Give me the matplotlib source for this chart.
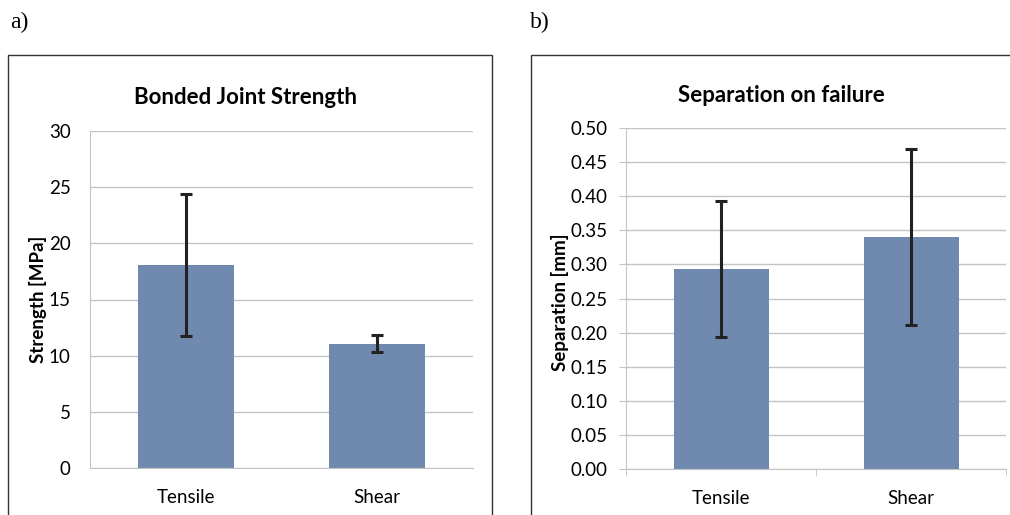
import matplotlib.pyplot as plt
from matplotlib.patches import Rectangle

categories = ['Tensile', 'Shear']

strength = [18.05, 11.07]
strength_err = [6.3, 0.75]

separation = [0.293, 0.340]
separation_err = [0.100, 0.129]

bar_col = '#7089ae'
grid_col = '#c4c4c4'
font = 'Lato'

fig = plt.figure(figsize=(10.1, 5.15), dpi=100)

# outer frames like the excel chart boxes
fig.patches.append(Rectangle((8 / 1010, -0.1), 484 / 1010, 1.1 - 55 / 515,
                             transform=fig.transFigure, fill=False,
                             edgecolor='#333333', linewidth=1.0))
fig.patches.append(Rectangle((531 / 1010, -0.1), 0.6, 1.1 - 55 / 515,
                             transform=fig.transFigure, fill=False,
                             edgecolor='#333333', linewidth=1.0))

fig.text(10 / 1010, 1 - 22 / 515, 'a)', family='Liberation Serif', fontsize=17,
         va='center', ha='left')
fig.text(530 / 1010, 1 - 22 / 515, 'b)', family='Liberation Serif', fontsize=17,
         va='center', ha='left')

# chart titles, centred on the boxes rather than the plot area
fig.text(246 / 1010, 1 - 98 / 515, 'Bonded Joint Strength', family=font,
         fontsize=16, fontweight='bold', ha='center', va='center')
fig.text(781 / 1010, 1 - 96 / 515, 'Separation on failure', family=font,
         fontsize=16, fontweight='bold', ha='center', va='center')


def style_axes(ax, ticks, labels, outward):
    ax.set_yticks(ticks)
    ax.set_yticklabels(labels, family=font, fontsize=13.5)
    ax.yaxis.grid(True, color=grid_col, linewidth=1.0)
    ax.set_axisbelow(True)
    for s in ['top', 'right']:
        ax.spines[s].set_visible(False)
    ax.spines['bottom'].set_color(grid_col)
    ax.spines['left'].set_color(grid_col)
    ax.set_xlim(-0.5, 1.5)
    ax.set_xticks([0, 1])
    ax.set_xticklabels(categories, family=font, fontsize=13.5)
    ax.tick_params(axis='x', which='major', length=0, pad=15)
    if outward:
        ax.set_xticks([-0.5, 0.5, 1.5], minor=True)
        ax.tick_params(axis='x', which='minor', length=5, color=grid_col)
        ax.tick_params(axis='y', length=5, color=grid_col, pad=8)
    else:
        ax.tick_params(axis='y', length=0, pad=14)


# a) strength
ax1 = fig.add_axes([90 / 1010, 1 - 468 / 515, 383 / 1010, 337 / 515])
ax1.bar(range(2), strength, width=0.5, color=bar_col)
ax1.errorbar(range(2), strength, yerr=strength_err, fmt='none', ecolor='#222222',
             elinewidth=2.2, capsize=4.5, capthick=2.2)
ax1.set_ylim(0, 30)
style_axes(ax1, range(0, 31, 5), [str(v) for v in range(0, 31, 5)], False)
ax1.set_ylabel('Strength [MPa]', family=font, fontsize=13.5, fontweight='bold',
               va='center')
ax1.yaxis.set_label_coords(-0.136, 0.5)

# b) separation
ax2 = fig.add_axes([626 / 1010, 1 - 469 / 515, 380 / 1010, 341 / 515])
ax2.bar(range(2), separation, width=0.5, color=bar_col)
ax2.errorbar(range(2), separation, yerr=separation_err, fmt='none',
             ecolor='#222222', elinewidth=2.2, capsize=4.5, capthick=2.2)
ax2.set_ylim(0, 0.5)
sep_ticks = [i * 0.05 for i in range(11)]
style_axes(ax2, sep_ticks, ['%.2f' % v for v in sep_ticks], True)
ax2.set_ylabel('Separation [mm]', family=font, fontsize=13.5, fontweight='bold',
               va='center')
ax2.yaxis.set_label_coords(-0.174, 0.49)

fig.savefig('out.png', dpi=100)
